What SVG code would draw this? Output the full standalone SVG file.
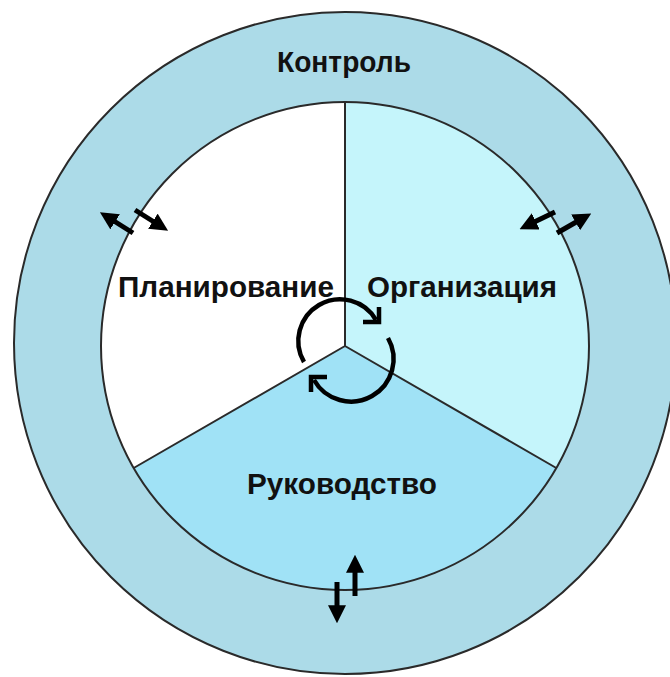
<svg xmlns="http://www.w3.org/2000/svg" width="670" height="677" viewBox="0 0 670 677">
<style>
.lbl{font-family:"Liberation Sans","DejaVu Sans",sans-serif;font-weight:bold;font-size:29px;fill:#111;text-anchor:middle}
.edge{stroke:#2a2a2a;stroke-width:2;fill:none}
.arr{stroke:#000;stroke-width:5;fill:none;marker-end:url(#ah)}
.cyc{stroke:#000;stroke-width:4.5;fill:none}
</style>
<defs>
<marker id="ah" viewBox="0 0 10 10" refX="6" refY="5" markerWidth="3.6" markerHeight="3.6" orient="auto">
<path d="M0,0 L10,5 L0,10 z" fill="#000"/>
</marker>
</defs>
<rect width="670" height="677" fill="#fff"/>
<g id="control">
<circle cx="345" cy="343" r="331" fill="#acdbe8" stroke="#2a2a2a" stroke-width="2"/>
<text class="lbl" x="344" y="72" textLength="134" lengthAdjust="spacingAndGlyphs">Контроль</text>
</g>
<g id="planning">
<path d="M345,346 L345,102 A244,244 0 0 0 133.7,468 Z" fill="#ffffff"/>
<text class="lbl" x="226" y="297" textLength="216" lengthAdjust="spacingAndGlyphs">Планирование</text>
</g>
<g id="organization">
<path d="M345,346 L345,102 A244,244 0 0 1 556.3,468 Z" fill="#c5f5fb"/>
<text class="lbl" x="462" y="297" textLength="190" lengthAdjust="spacingAndGlyphs">Организация</text>
</g>
<g id="leadership">
<path d="M345,346 L133.7,468 A244,244 0 0 0 556.3,468 Z" fill="#a0e2f6"/>
<text class="lbl" x="342" y="494" textLength="190" lengthAdjust="spacingAndGlyphs">Руководство</text>
</g>
<g id="borders">
<circle class="edge" cx="345" cy="346" r="244"/>
<path class="edge" d="M345,346 L345,102 M345,346 L133.7,468 M345,346 L556.3,468"/>
</g>
<g id="connectors">
<line class="arr" x1="133" y1="233" x2="106" y2="216"/>
<line class="arr" x1="135" y1="210" x2="162" y2="227"/>
<line class="arr" x1="555" y1="212" x2="526" y2="226"/>
<line class="arr" x1="557" y1="233" x2="585" y2="217"/>
<line class="arr" x1="355" y1="596" x2="355" y2="562"/>
<line class="arr" x1="337" y1="582" x2="337" y2="616"/>
<path class="cyc" d="M304,362 A40,40 0 0 1 376,320"/>
<polyline class="cyc" points="363,322 379,322 379,307"/>
<path class="cyc" d="M388,338 A41,41 0 0 1 314,380"/>
<polyline class="cyc" points="327,377 311,377 311,392"/>
</g>
</svg>
